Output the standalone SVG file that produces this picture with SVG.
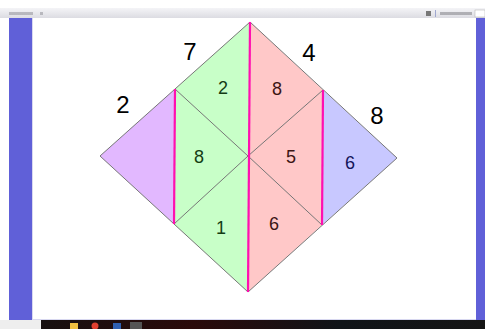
<svg xmlns="http://www.w3.org/2000/svg" width="485" height="329" viewBox="0 0 485 329">
<defs>
<linearGradient id="bar" x1="0" y1="0" x2="0" y2="1"><stop offset="0" stop-color="#f4f4f7"/><stop offset="1" stop-color="#dcdce2"/></linearGradient>
<linearGradient id="task" x1="0" y1="0" x2="1" y2="0"><stop offset="0" stop-color="#121212"/><stop offset="0.4" stop-color="#2a0a0a"/><stop offset="0.7" stop-color="#101418"/><stop offset="1" stop-color="#151515"/></linearGradient>
<style>
.edge{stroke:#777;stroke-width:1;fill:none}
.mag{stroke:#ff10b0;stroke-width:2.2;fill:none}
.big{font-family:"Liberation Sans",Arial,sans-serif;font-size:24px;fill:#000;text-anchor:middle}
.sm{font-family:"Liberation Sans",Arial,sans-serif;font-size:18px;text-anchor:middle}
</style>
</defs>
<rect width="485" height="329" fill="#ffffff"/>
<rect x="0" y="8" width="485" height="10" fill="url(#bar)"/>
<rect x="9" y="12" width="24" height="3" fill="#9a9aa0" opacity="0.6"/>
<rect x="40" y="12" width="3" height="3" fill="#9a9aa0" opacity="0.6"/>
<rect x="426" y="11" width="5" height="5" fill="#777"/>
<rect x="435" y="10" width="1" height="7" fill="#a0a8d0"/>
<rect x="440" y="12" width="32" height="3" fill="#8a8a90" opacity="0.6"/>
<rect x="475" y="10" width="10" height="7" fill="#fff" stroke="#aaa" stroke-width="0.5"/>
<rect x="9" y="18" width="23" height="302" fill="#6060d8"/>
<rect x="476" y="18" width="9" height="302" fill="#6060d8"/>
<line x1="32.5" y1="18" x2="32.5" y2="320" stroke="#d8d8f0"/>
<line x1="32" y1="319.5" x2="476" y2="319.5" stroke="#d8d8f0"/>
<rect x="0" y="320" width="485" height="9" fill="url(#task)"/>
<rect x="0" y="320" width="41" height="9" fill="#eeeeee"/>
<rect x="70" y="323" width="8" height="6" fill="#f0c040"/>
<circle cx="95" cy="326" r="3.5" fill="#e04030"/>
<rect x="113" y="323" width="8" height="6" fill="#3060b0"/>
<rect x="130" y="322" width="12" height="7" fill="#555"/>

<g id="nodes">
<g id="left-triangle"><polygon points="100,156 175,89 174,224" fill="#e2b8ff"/></g>
<g id="green-region"><polygon points="175,89 250,22 248,292 174,224" fill="#c8ffc8"/></g>
<g id="pink-region"><polygon points="250,22 323,90 322,225 248,292" fill="#ffc8c8"/></g>
<g id="right-triangle"><polygon points="323,90 397,158 322,225" fill="#c8c8ff"/></g>
</g>
<g id="connectors">
<polygon class="edge" points="100,156 250,22 397,158 248,292"/>
<polyline class="edge" points="175,89 248,156 174,224"/>
<polyline class="edge" points="323,90 248,156 322,225"/>
<line class="mag" x1="250" y1="22" x2="248" y2="292"/>
<line class="mag" x1="175" y1="89" x2="174" y2="224"/>
<line class="mag" x1="323" y1="90" x2="322" y2="225"/>
</g>
<g id="labels">
<text class="big" x="190" y="60">7</text>
<text class="big" x="309" y="61">4</text>
<text class="big" x="123" y="113">2</text>
<text class="big" x="377" y="124">8</text>
<text class="sm" x="223" y="94" fill="#143c14">2</text>
<text class="sm" x="277" y="95" fill="#3c1414">8</text>
<text class="sm" x="199" y="163" fill="#143c14">8</text>
<text class="sm" x="291" y="163" fill="#3c1414">5</text>
<text class="sm" x="350" y="169" fill="#14145a">6</text>
<text class="sm" x="221" y="234" fill="#143c14">1</text>
<text class="sm" x="274" y="230" fill="#3c1414">6</text>
</g>
</svg>
